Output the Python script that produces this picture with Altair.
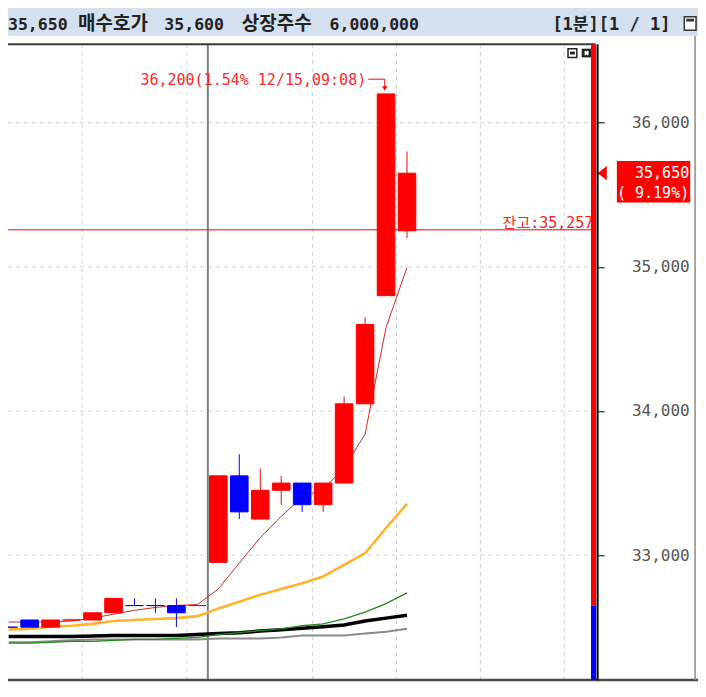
import altair as alt
import pandas as pd

# ---------------- data ----------------
candle_idx = list(range(20))
opens  = [32500, 32550, 32500, 32550, 32550, 32600, 32650, 32650, 32650, 32650,
          32950, 33550, 33250, 33450, 33500, 33350, 33500, 34050, 34800, 35250]
highs  = [32500, 32550, 32550, 32550, 32600, 32700, 32700, 32700, 32700, 32650,
          33550, 33700, 33600, 33550, 33500, 33500, 34100, 34650, 36200, 35800]
lows   = [32500, 32500, 32500, 32550, 32550, 32600, 32650, 32600, 32500, 32650,
          32950, 33250, 33250, 33350, 33300, 33300, 33500, 34050, 34800, 35200]
closes = [32500, 32500, 32550, 32550, 32600, 32700, 32650, 32650, 32600, 32650,
          33550, 33300, 33450, 33500, 33350, 33500, 34050, 34600, 36200, 35650]
dirs   = ["down", "down", "up", "up", "up", "up", "down", "down", "down", "up",
          "up", "down", "up", "up", "down", "up", "up", "up", "up", "up"]

ma_red    = [32536, 32536, 32536, 32543, 32563, 32590, 32617, 32637, 32651, 32657,
             32765, 32946, 33121, 33269, 33403, 33457, 33605, 33840, 34579, 34996]
ma_orange = [32483, 32489, 32503, 32510, 32523, 32543, 32550, 32557, 32563, 32577,
             32630, 32677, 32725, 32765, 32805, 32852, 32933, 33013, 33188, 33356]
ma_green  = [32389, 32389, 32395, 32402, 32402, 32409, 32415, 32415, 32422, 32429,
             32449, 32462, 32476, 32489, 32510, 32523, 32557, 32604, 32664, 32738]
ma_black  = [32436, 32436, 32436, 32436, 32439, 32442, 32442, 32442, 32442, 32449,
             32456, 32462, 32473, 32483, 32493, 32503, 32516, 32543, 32563, 32583]
ma_gray   = [32395, 32395, 32402, 32409, 32415, 32415, 32415, 32415, 32415, 32415,
             32422, 32422, 32422, 32429, 32442, 32442, 32442, 32456, 32469, 32489]

grid_x = [3.5, 8.5, 14.5, 18.5, 22.5, 26.5]
day_sep = [9.5]
y_ticks = [33000, 34000, 35000, 36000]

balance = 35257
current = 35650
change_pct = 9.19
peak_i = 18
peak = 36200
peak_label = "36,200(1.54% 12/15,09:08)"
sell_pct = 11.7          # blue part of the right-hand ratio bar

header_tokens = ["35,650", "매수호가", "35,600", "상장주수", "6,000,000"]
header_right = "[1분][1 / 1]"

# ---------------- layout helpers (reference px -> chart px) ----------------
SX = 690 / 706
SY = 675 / 697
TOP = 37.5


def X(px):
    return px * SX


def Y(py):
    return (py - TOP) * SY


W = X(603)
H = Y(694)

MONO = "DejaVu Sans Mono, Noto Sans CJK KR"
KR = "Noto Sans CJK KR"
RED = "#ff0000"
BLUE = "#0000ff"

xs = alt.Scale(domain=[0.206, 27.84], nice=False, zero=False)
ys = alt.Scale(domain=[32133, 36544], nice=False, zero=False)
yaxis = alt.Axis(orient="right", values=y_ticks, title=None,
                 labelExpr="format(datum.value, ',')",
                 grid=False, zindex=1,
                 domain=True, domainColor="#000000", domainWidth=1.5,
                 ticks=True, tickColor="#000000", tickSize=X(7), tickWidth=1,
                 labelFont=MONO, labelFontSize=16, labelColor="#555555",
                 labelAlign="right", labelBaseline="middle",
                 labelPadding=X(697 - 603) - X(7), labelFlush=False)


def XE(f="i:Q"):
    return alt.X(f, scale=xs, axis=None)


def YE(f):
    return alt.Y(f, scale=ys, axis=yaxis)


dir_scale = alt.Scale(domain=["up", "down"], range=[RED, BLUE])
col = alt.Color("d:N", scale=dir_scale, legend=None)
stk = alt.Stroke("d:N", scale=dir_scale, legend=None)

df = pd.DataFrame({"i": candle_idx, "o": opens, "h": highs, "l": lows,
                   "c": closes, "d": dirs})

# ---------------- layers ----------------
one = pd.DataFrame({"k": [0]})

hgrid = alt.Chart(pd.DataFrame({"v": y_ticks})).mark_rule(
    strokeDash=[4, 4], color="#cfcfcf", strokeWidth=1
).encode(x=alt.value(0), x2=alt.value(X(597)), y=YE("v:Q"))

vgrid = alt.Chart(pd.DataFrame({"i": grid_x})).mark_rule(
    strokeDash=[4, 4], color="#cfcfcf", strokeWidth=1
).encode(x=XE(), y=alt.value(0), y2=alt.value(H))

daysep = alt.Chart(pd.DataFrame({"i": day_sep})).mark_rule(
    color="#808080", strokeWidth=2
).encode(x=XE(), y=alt.value(0), y2=alt.value(H))


def ma_layer(vals, color, width):
    d = pd.DataFrame({"i": candle_idx, "v": vals})
    return alt.Chart(d).mark_line(color=color, strokeWidth=width, clip=True).encode(
        x=XE(), y=YE("v:Q"))


mas = [
    ma_layer(ma_gray, "#8a8a8a", 2),
    ma_layer(ma_black, "#000000", 3.5),
    ma_layer(ma_green, "#1f8a1f", 1.3),
    ma_layer(ma_orange, "#ffb22e", 2.6),
    ma_layer(ma_red, "#d42a2a", 1),
]

bal_df = pd.DataFrame({"v": [balance], "lbl": [f"잔고:{balance:,}"]})
bal_rule = alt.Chart(bal_df).mark_rule(color=RED, strokeWidth=1).encode(
    x=alt.value(0), x2=alt.value(X(597)), y=YE("v:Q"))
bal_text = alt.Chart(bal_df).mark_text(
    align="right", baseline="alphabetic", font=MONO, fontSize=15, color="#ff2020",
    dy=-2.3 * SY
).encode(x=alt.value(X(599)), y=YE("v:Q"), text="lbl:N")

wicks = alt.Chart(df).mark_rule(strokeWidth=1, clip=True).encode(
    x=XE(), y=YE("l:Q"), y2="h:Q", color=col)
bodies = alt.Chart(df).mark_bar(size=18 * SX, strokeWidth=1, clip=True).encode(
    x=XE(), y=YE("o:Q"), y2="c:Q", color=col, stroke=stk)

peak_df = pd.DataFrame({"i": [peak_i], "p": [peak], "lbl": [peak_label]})
peak_text = alt.Chart(peak_df).mark_text(
    align="right", baseline="alphabetic", font=MONO, fontSize=15, color="#ff2a2a",
    dx=-20.3 * SX, dy=-8.7 * SY
).encode(x=XE(), y=YE("p:Q"), text="lbl:N")
arrow_h = alt.Chart(peak_df).mark_rule(
    color=RED, strokeWidth=1, xOffset=-18.3 * SX, x2Offset=-1.3 * SX,
    yOffset=-15.2 * SY, y2Offset=-15.2 * SY
).encode(x=XE(), x2="i:Q", y=YE("p:Q"), y2="p:Q")
arrow_v = alt.Chart(peak_df).mark_rule(
    color=RED, strokeWidth=1, xOffset=-1.3 * SX, yOffset=-15.2 * SY, y2Offset=-6 * SY
).encode(x=XE(), y=YE("p:Q"), y2="p:Q")
arrow_head = alt.Chart(peak_df).mark_point(
    shape="triangle-down", filled=True, size=28, color=RED, opacity=1,
    xOffset=-1.3 * SX, yOffset=-5.5 * SY
).encode(x=XE(), y=YE("p:Q"))

cur_df = pd.DataFrame({"v": [current], "l1": [f"{current:,}"],
                       "l2": [f"( {change_pct:.2f}%)"]})
cur_tri = alt.Chart(cur_df).mark_point(
    shape="M-1,0L1,-1.6L1,1.6Z", filled=True, size=81, color=RED, opacity=1
).encode(x=alt.value(X(608)), y=YE("v:Q"))
cur_box = alt.Chart(cur_df).mark_rect(
    color=RED, yOffset=-12.6 * SY, y2Offset=30.2 * SY
).encode(x=alt.value(X(623)), x2=alt.value(X(698)), y=YE("v:Q"), y2="v:Q")
cur_t1 = alt.Chart(cur_df).mark_text(
    align="right", baseline="alphabetic", font=MONO, fontSize=15, color="white",
    dy=4.6 * SY
).encode(x=alt.value(X(697)), y=YE("v:Q"), text="l1:N")
cur_t2 = alt.Chart(cur_df).mark_text(
    align="right", baseline="alphabetic", font=MONO, fontSize=15, color="white",
    dy=25.8 * SY
).encode(x=alt.value(X(697)), y=YE("v:Q"), text="l2:N")

# frame, header and decorations
top_line = alt.Chart(one).mark_rule(color="#3a3a3a", strokeWidth=2).encode(
    x=alt.value(0), x2=alt.value(X(601)), y=alt.value(0))
bot_line = alt.Chart(one).mark_rule(color="#4a4a4a", strokeWidth=2.5).encode(
    x=alt.value(0), x2=alt.value(X(706)), y=alt.value(H))
right_line = alt.Chart(one).mark_rule(color="#8c8c8c", strokeWidth=1.5).encode(
    x=alt.value(X(703)), y=alt.value(Y(29)), y2=alt.value(H))
header_bg = alt.Chart(one).mark_rect(color="#d4e0ee").encode(
    x=alt.value(0), x2=alt.value(X(706)), y=alt.value(Y(0)), y2=alt.value(Y(29)))

# (anchor x in reference px, alignment)
hdr_pos = [(0, "left"), (107.5, "center"), (160, "left"), (275, "center"), (329, "left")]
hdr_layers = []
for tok, (hx, al) in zip(header_tokens, hdr_pos):
    is_kr = not any(ch.isdigit() for ch in tok)
    hdr_layers.append(alt.Chart(one).mark_text(
        align=al, baseline="alphabetic", font=KR if is_kr else MONO,
        fontSize=19 if is_kr else 16.5, fontWeight="bold", color="#222222",
        text=tok
    ).encode(x=alt.value(X(hx)), y=alt.value(Y(22.5))))
hdr_layers.append(alt.Chart(one).mark_text(
    align="left", baseline="alphabetic", font=MONO, fontSize=17, fontWeight="bold",
    color="#222222", text=header_right
).encode(x=alt.value(X(557)), y=alt.value(Y(22.5))))

win_icon = alt.Chart(one).mark_rect(fill="white", stroke="#333333", strokeWidth=1.5).encode(
    x=alt.value(X(692)), x2=alt.value(X(704)), y=alt.value(Y(9)), y2=alt.value(Y(23)))
win_bar = alt.Chart(one).mark_rect(color="#333333").encode(
    x=alt.value(X(694)), x2=alt.value(X(702)), y=alt.value(Y(11)), y2=alt.value(Y(14)))

ic1 = alt.Chart(one).mark_rect(fill="white", stroke="#222222", strokeWidth=1.5).encode(
    x=alt.value(X(573)), x2=alt.value(X(582)), y=alt.value(Y(42)), y2=alt.value(Y(51)))
ic1b = alt.Chart(one).mark_rect(color="#222222").encode(
    x=alt.value(X(575)), x2=alt.value(X(580)), y=alt.value(Y(45)), y2=alt.value(Y(48)))
ic2 = alt.Chart(one).mark_rect(color="#222222").encode(
    x=alt.value(X(587)), x2=alt.value(X(597)), y=alt.value(Y(42)), y2=alt.value(Y(51)))
ic2x = alt.Chart(one).mark_point(shape="cross", angle=45, filled=True, size=26,
                                 color="white", opacity=1).encode(
    x=alt.value(X(592)), y=alt.value(Y(46.5)))

main = alt.layer(
    hgrid, vgrid, daysep, *mas, bal_rule, bal_text, wicks, bodies,
    peak_text, arrow_h, arrow_v, arrow_head,
    cur_tri, cur_box, cur_t1, cur_t2,
    top_line, bot_line, right_line, header_bg, *hdr_layers,
    win_icon, win_bar, ic1, ic1b, ic2, ic2x,
)

ratio_df = pd.DataFrame({"d": ["up", "down"], "s": [sell_pct, 0], "e": [100, sell_pct]})
ratio = alt.Chart(ratio_df).mark_rect().encode(
    x=alt.value(X(596.5)), x2=alt.value(W - 1.2),
    y=alt.Y("s:Q", scale=alt.Scale(domain=[0, 100], nice=False), axis=None),
    y2="e:Q", color=col)
axis_line = alt.Chart(one).mark_rule(color="#000000", strokeWidth=1.5).encode(
    x=alt.value(W), y=alt.value(0), y2=alt.value(H))

chart = alt.layer(main, ratio, axis_line).resolve_scale(y="independent").properties(
    width=W, height=H,
    autosize=alt.AutoSizeParams(type="none"),
    padding={"left": 0, "top": TOP * SY, "right": X(706) - W, "bottom": (697 - 694) * SY},
    background="white",
).configure_view(stroke=None)

chart.save("out.html", embed_options={"renderer": "svg", "actions": False})
